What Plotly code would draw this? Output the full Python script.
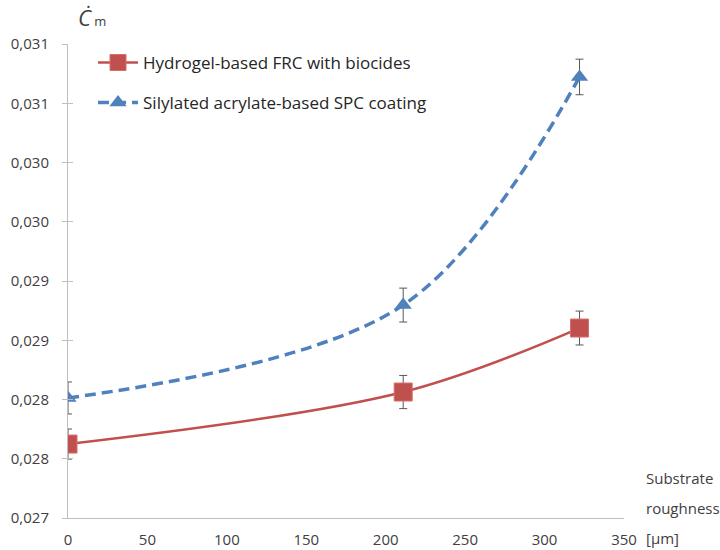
import plotly.graph_objects as go

roughness = [0, 211, 322]
frc_values = [0.027624, 0.028063, 0.028603]
frc_errors = [0.000127, 0.00014, 0.000143]
spc_values = [0.028013, 0.028797, 0.030722]
spc_errors = [0.000135, 0.000143, 0.00015]

y_tickvals = [0.027, 0.0275, 0.028, 0.0285, 0.029, 0.0295, 0.030, 0.0305, 0.031]
y_ticktext = ["0,027", "0,028", "0,028", "0,029", "0,029", "0,030", "0,030", "0,031", "0,031"]
x_tickvals = [0, 50, 100, 150, 200, 250, 300, 350]

FONT = "Open Sans"
RED = "#C0504D"
BLUE = "#4F81BD"
TXT = "#404040"

fig = go.Figure()
fig.add_trace(go.Scatter(
    x=roughness, y=frc_values, name="Hydrogel-based FRC with biocides",
    legendgroup="frc",
    mode="lines+markers", line=dict(color=RED, width=2.5, shape="spline"),
    marker=dict(symbol="square", size=18, color=RED, line=dict(color="#D46F6C", width=1)),
    error_y=dict(type="data", array=frc_errors, color="#595959", thickness=1, width=4),
))
fig.add_trace(go.Scatter(
    x=roughness, y=spc_values, name="Silylated acrylate-based SPC coating",
    legendgroup="spc",
    mode="lines+markers", line=dict(color=BLUE, width=3.5, dash="11px,6px", shape="spline"),
    marker=dict(symbol="triangle-up", size=15, color=BLUE),
    error_y=dict(type="data", array=spc_errors, color="#595959", thickness=1, width=4),
))
fig.add_trace(go.Scatter(x=[None], y=[None], yaxis="y2", showlegend=False, hoverinfo="skip"))

fig.update_layout(
    width=720, height=550,
    margin=dict(l=68, r=96, t=44, b=32),
    paper_bgcolor="white", plot_bgcolor="white",
    font=dict(family=FONT, size=15, color=TXT),
    showlegend=True,
    legend=dict(x=0.045, y=0.998, xanchor="left", yanchor="top",
                font=dict(family=FONT, size=17, color="#262626"),
                bgcolor="rgba(0,0,0,0)", itemwidth=40, tracegroupgap=15),
    xaxis=dict(range=[0, 350], tickvals=x_tickvals, showgrid=False, zeroline=False,
               showline=True, linecolor="#BFBFBF", linewidth=1, ticks="",
               tickfont=dict(family=FONT, size=15, color=TXT), ticklabelstandoff=8,
               automargin=False),
    yaxis=dict(range=[0.027, 0.031], tickvals=y_tickvals, ticktext=y_ticktext,
               showgrid=False, zeroline=False, showline=True, linecolor="#BFBFBF",
               linewidth=1, ticks="outside", ticklen=5, tickcolor="#BFBFBF",
               tickfont=dict(family=FONT, size=15, color=TXT), ticklabelstandoff=10,
               automargin=False),
    yaxis2=dict(range=[0.027, 0.031], overlaying="y", side="left", tickvals=y_tickvals,
                showticklabels=False, ticks="inside", ticklen=5, tickcolor="#BFBFBF",
                showgrid=False, zeroline=False, showline=False, automargin=False),
    annotations=[
        dict(xref="paper", yref="paper", x=0.014, y=1.0, xanchor="left", yanchor="bottom",
             yshift=10, showarrow=False,
             text="<i>Ċ</i><span style='font-size:13px'> m</span>",
             font=dict(family=FONT, size=22, color=TXT)),
        dict(xref="paper", yref="paper", x=1.036, y=0.0844, xanchor="left", yanchor="middle",
             showarrow=False, text="Substrate", font=dict(family=FONT, size=15, color=TXT)),
        dict(xref="paper", yref="paper", x=1.036, y=0.0211, xanchor="left", yanchor="middle",
             showarrow=False, text="roughness", font=dict(family=FONT, size=15, color=TXT)),
        dict(xref="paper", yref="paper", x=1.036, y=-0.0422, xanchor="left", yanchor="middle",
             showarrow=False, text="[µm]", font=dict(family=FONT, size=15, color=TXT)),
    ],
)

fig.write_html("out.html", config={"displayModeBar": False},
               post_script="document.body.style.margin='0px';")
